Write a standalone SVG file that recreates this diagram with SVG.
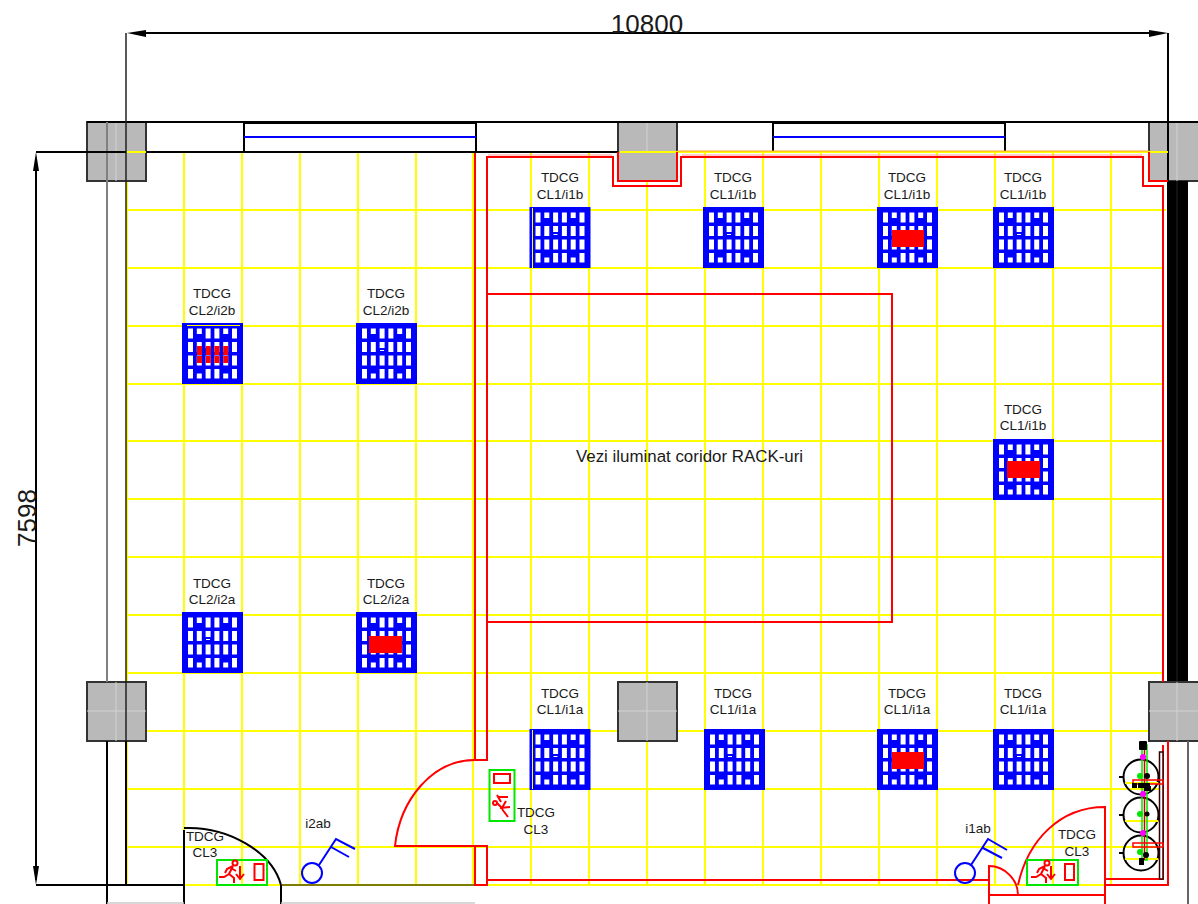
<svg xmlns="http://www.w3.org/2000/svg" width="1198" height="904" viewBox="0 0 1198 904">
<style>
text{font-family:"Liberation Sans",Arial,sans-serif;fill:#1a1a1a;text-anchor:middle}
.t{font-size:13.5px}.d{font-size:26px}
.y{stroke:#ffff00;stroke-width:2;fill:none}
.yt{stroke:#ffff00;stroke-width:1;fill:none}
.k{stroke:#000;stroke-width:2;fill:none}
.r{stroke:#ff0000;stroke-width:2;fill:none}
.g{stroke:#00e600;stroke-width:2;fill:none}
.b{stroke:#0000ff;stroke-width:2;fill:none}
.p{fill:#b9b9b9;stroke:#333;stroke-width:2}
.l{stroke:#d2d2d2;stroke-width:1;fill:none}
.h{fill:#fff}
.rf{fill:#ff0000}
</style>
<defs>
<g id="fx">
<rect x="0" y="0" width="61" height="61" fill="#0000ff"/>
<g class="h">
<rect x="6" y="5.5" width="5" height="10"/><rect x="14.800" y="5.500" width="5" height="5.500"/><rect x="23.600" y="5.500" width="5" height="10"/><rect x="32.400" y="5.500" width="5" height="10"/><rect x="41.200" y="5.500" width="5" height="5.500"/><rect x="50" y="5.500" width="5" height="10"/>
<rect x="6" y="19" width="5" height="10"/><rect x="14.800" y="19" width="5" height="10"/><rect x="23.600" y="19" width="5" height="6"/><rect x="32.400" y="19" width="5" height="10"/><rect x="41.200" y="19" width="5" height="10"/><rect x="50" y="19" width="5" height="10"/>
<rect x="6" y="32.500" width="5" height="10"/><rect x="14.800" y="32.500" width="5" height="10"/><rect x="23.600" y="32.500" width="5" height="10"/><rect x="32.400" y="32.500" width="5" height="10"/><rect x="41.200" y="32.500" width="5" height="10"/><rect x="50" y="32.500" width="5" height="10"/>
<rect x="6" y="46" width="5" height="9.500"/><rect x="14.800" y="50.500" width="5" height="5"/><rect x="23.600" y="46" width="5" height="9.500"/><rect x="32.400" y="46" width="5" height="9.500"/><rect x="41.200" y="50.500" width="5" height="5"/><rect x="50" y="46" width="5" height="9.500"/>
<rect x="24" y="27" width="4" height="1"/>
</g>
</g>
<g id="man">
<circle cx="10" cy="-18" r="2.500" class="r"/>
<path d="M8-15L4-7L-1-4L-6-4M4-7L9-3L9 2M8-15L2-12L0-8M6-13L11-10" class="r"/>
</g>
</defs>

<g id="grid">
<path class="y" d="M126 210H1166M126 268H1163M126 326H1163M126 384H1163M126 441H1163M126 499H1163M126 557H1163M126 615H1163M126 673H1163M126 731H1163M126 789H1163M126 847H1163M126 885H1106"/>
<path class="y" d="M184 152V885M242 152V885M300 152V885M358 152V885M416 152V885M473 152V885M531 152V885M589 152V885M647 152V885M705 152V885M763 152V885M821 152V885M879 152V885M937 152V885M995 152V885M1053 152V885M1111 152V885M127 152V885"/>
</g>

<g id="structure">
<rect id="col-a" class="p" x="87" y="122" width="59" height="59"/>
<rect id="col-b" class="p" x="618" y="122" width="59" height="59"/>
<rect id="col-c" class="p" x="1149" y="122" width="60" height="59"/>
<path class="l" d="M116 122V181M647 122V152M1177 122V181"/>
<rect x="1167" y="181" width="21" height="501" fill="#000"/>
<path stroke="#222" stroke-width="1" d="M1177 181V682"/>
<rect id="col-d" class="p" x="87" y="682" width="59" height="59"/>
<rect id="col-e" class="p" x="618" y="682" width="59" height="59"/>
<rect id="col-f" class="p" x="1149" y="682" width="60" height="59"/>
<path class="l" d="M116 682V741M87 711H146M647 682V741M618 711H677M1177 682V741M1149 711H1198"/>
<path class="k" d="M87 122H1198" stroke-width="1.500"/>
<path class="k" d="M244 122V152M476 122V152M773 122V152M1005 122V152M244 123H476"/>
<path class="k" stroke-width="1.500" d="M773 123H1005"/>
<path class="b" d="M244 137H476M773 137H1005"/>
<path stroke="#808080" stroke-width="2" fill="none" d="M107 122V682"/>
<path class="k" d="M107 741V904M126 741V885"/>
<path stroke="#222" stroke-width="1.500" fill="none" d="M126 33V741"/>
<path class="k" d="M1168 33V181"/>
<path stroke="#666" stroke-width="2" fill="none" d="M1188 741V904"/>
<path class="k" stroke-width="1.500" d="M36 152H126M146 152H618"/>
<path class="y" d="M127 152H146M620 152H1168"/>
<path stroke="#ffa030" stroke-width="1" fill="none" d="M677 151H1149"/>
<path class="k" d="M36 885H184M184 830V904M281 885V904"/>
<path class="k" d="M184 828C228 826 272 852 281 885"/>
<path stroke="#807c00" stroke-width="2" fill="none" d="M282 885H475"/>
<path stroke="#ccc" stroke-width="1.500" fill="none" d="M107 903H184M281 903H475"/>
</g>

<g id="red-lines">
<path class="r" d="M475 153V760H487V157H613V186H681V157H1143V186H1163V682"/>
<path stroke="#ff9a9a" stroke-width="1" fill="none" d="M488 155H612M682 155H1142"/>
<path class="r" d="M618 152V181H677V152M1149 152V181H1168"/>
<path class="r" d="M487 294H892V622H487"/>
<path class="r" d="M1163 745V879H1105M1168 741V885H1105"/>
<path class="r" d="M475 760C432 760 400 800 395 846H487V885H475V846"/>
<path class="r" d="M487 880H989M989 904V866C1005 866 1018 880 1018 895M989 895H1105M1105 904V807C1060 807 1028 840 1018 885"/>
</g>

<g id="dimensions">
<path class="k" stroke-width="1.500" d="M146 33H1149"/>
<path d="M127 33L146 30V37Z M1168 33L1149 30V37Z M36 152L33 171H39Z M36 885L33 866H39Z" fill="#000"/>
<path class="k" stroke-width="1.500" d="M36 160V880"/>
<text class="d" x="647" y="33">10800</text>
<text class="d" transform="translate(36 518) rotate(-90)">7598</text>
</g>

<g id="f1"><use href="#fx" x="182" y="323"/>
<path class="yt" d="M187 325.500H240"/>
<path class="rf" d="M197 346h5v9h-5zM205.800 346h5v9h-5zM214.400 346h5v9h-5zM223.200 346h5v9h-5zM197 356h5v7h-5zM205.800 356h5v7h-5zM214.400 356h5v7h-5zM223.200 356h5v7h-5z"/>
<text class="t" x="212" y="298">TDCG</text><text class="t" x="212" y="315">CL2/i2b</text></g>
<g id="f2"><use href="#fx" x="356" y="323"/><text class="t" x="386" y="298">TDCG</text><text class="t" x="386" y="315">CL2/i2b</text></g>
<g id="f3"><use href="#fx" x="182" y="612"/><text class="t" x="212" y="588">TDCG</text><text class="t" x="212" y="604">CL2/i2a</text></g>
<g id="f4"><use href="#fx" x="356" y="612"/><rect class="rf" x="369" y="636" width="33" height="17"/><text class="t" x="386" y="588">TDCG</text><text class="t" x="386" y="604">CL2/i2a</text></g>
<g id="f5"><use href="#fx" x="529.500" y="207"/><path class="yt" d="M532.500 208V268"/><text class="t" x="560" y="182">TDCG</text><text class="t" x="560" y="199">CL1/i1b</text></g>
<g id="f6"><use href="#fx" x="703" y="207"/><text class="t" x="733" y="182">TDCG</text><text class="t" x="733" y="199">CL1/i1b</text></g>
<g id="f7"><use href="#fx" x="877" y="207"/><rect class="rf" x="892" y="230" width="32" height="17"/><text class="t" x="907" y="182">TDCG</text><text class="t" x="907" y="199">CL1/i1b</text></g>
<g id="f8"><use href="#fx" x="993" y="207"/><text class="t" x="1023" y="182">TDCG</text><text class="t" x="1023" y="199">CL1/i1b</text></g>
<g id="f9"><use href="#fx" x="993" y="439"/><rect class="rf" x="1007" y="461" width="33" height="17"/><text class="t" x="1023" y="414">TDCG</text><text class="t" x="1023" y="430">CL1/i1b</text></g>
<g id="f10"><use href="#fx" x="529.500" y="729"/><path class="yt" d="M532.500 730V789"/><text class="t" x="560" y="698">TDCG</text><text class="t" x="560" y="714">CL1/i1a</text></g>
<g id="f11"><use href="#fx" x="704" y="729"/><text class="t" x="733" y="698">TDCG</text><text class="t" x="733" y="714">CL1/i1a</text></g>
<g id="f12"><use href="#fx" x="877" y="729"/><rect class="rf" x="892" y="752" width="32" height="17"/><text class="t" x="907" y="698">TDCG</text><text class="t" x="907" y="714">CL1/i1a</text></g>
<g id="f13"><use href="#fx" x="993" y="729"/><text class="t" x="1023" y="698">TDCG</text><text class="t" x="1023" y="714">CL1/i1a</text></g>

<g id="label-corridor"><text x="689.500" y="462" font-size="16.900px">Vezi iluminat coridor RACK-uri</text></g>

<g id="exit-left">
<rect class="g" x="217" y="860" width="50" height="25"/>
<rect class="r" x="254.500" y="864" width="9" height="16"/>
<use href="#man" x="225" y="881"/>
<path class="r" d="M240 866V879M236 874L240 879L244 874"/>
<text class="t" x="205" y="841">TDCG</text><text class="t" x="205" y="857">CL3</text>
</g>
<g id="exit-centre">
<rect class="g" x="489.500" y="770" width="25" height="51"/>
<rect class="r" x="494" y="774" width="16" height="9"/>
<circle class="r" cx="495" cy="803" r="2"/>
<path class="r" d="M498 797H508M497 795L501 802M497 803L502 808M500 808L510 807M502 809L508 817M502 808L506 801"/>
<text class="t" x="536" y="817">TDCG</text><text class="t" x="536" y="834">CL3</text>
</g>
<g id="exit-right">
<rect class="g" x="1027" y="860" width="51" height="25"/>
<rect class="r" x="1065" y="864" width="9" height="16"/>
<use href="#man" x="1037" y="881"/>
<path class="r" d="M1051 866V879M1047 874L1051 879L1055 874"/>
<text class="t" x="1077" y="839">TDCG</text><text class="t" x="1077" y="856">CL3</text>
</g>

<g id="switch-i2ab">
<circle class="b" cx="312" cy="873" r="10"/>
<path class="b" d="M319 865L336 839L355 849M331 847L349 857"/>
<text class="t" x="318" y="828">i2ab</text>
</g>
<g id="switch-i1ab">
<circle class="b" cx="965" cy="873" r="10"/>
<path class="b" d="M971 865L988 839L1007 850M983 848L1002 858"/>
<text class="t" x="978" y="833">i1ab</text>
</g>

<g id="panel">
<g class="k">
<circle cx="1141" cy="777" r="17.500"/><circle cx="1141" cy="815" r="17.500"/><circle cx="1141" cy="853" r="17.500"/>
<path d="M1119 777H1124M1119 815H1124M1119 853H1124"/>
</g>
<rect x="1159.500" y="752" width="3.500" height="127" fill="#fff" stroke="#300" stroke-width="1.500"/>
<path class="y" d="M1125 783H1158M1125 821H1158M1125 859H1158"/>
<rect x="1142" y="745" width="5" height="115" fill="none" stroke="#00e600" stroke-width="1.500"/>
<path stroke="#c00" stroke-width="1.500" d="M1144.500 745V860"/>
<rect x="1133" y="780" width="30" height="4" fill="none" stroke="#ff0000" stroke-width="1.500"/>
<rect x="1133" y="843" width="30" height="4" fill="none" stroke="#ff0000" stroke-width="1.500"/>
<g fill="#000">
<rect x="1139" y="741" width="8" height="9" rx="1"/>
<rect x="1132" y="783" width="5" height="5"/><rect x="1138" y="783" width="12" height="5"/><rect x="1144" y="786" width="7" height="5"/><circle cx="1147" cy="776" r="3"/><circle cx="1147" cy="814" r="2.500"/><circle cx="1146" cy="855" r="3"/><rect x="1139" y="858" width="5" height="7"/>
</g>
<g fill="#00e600"><circle cx="1140" cy="776" r="3"/><circle cx="1140" cy="814" r="3"/><circle cx="1140" cy="852" r="3"/></g>
<g fill="#ff00ff"><circle cx="1143" cy="757" r="3"/><circle cx="1143" cy="794" r="3"/><circle cx="1143" cy="833" r="3"/></g>
</g>
</svg>
